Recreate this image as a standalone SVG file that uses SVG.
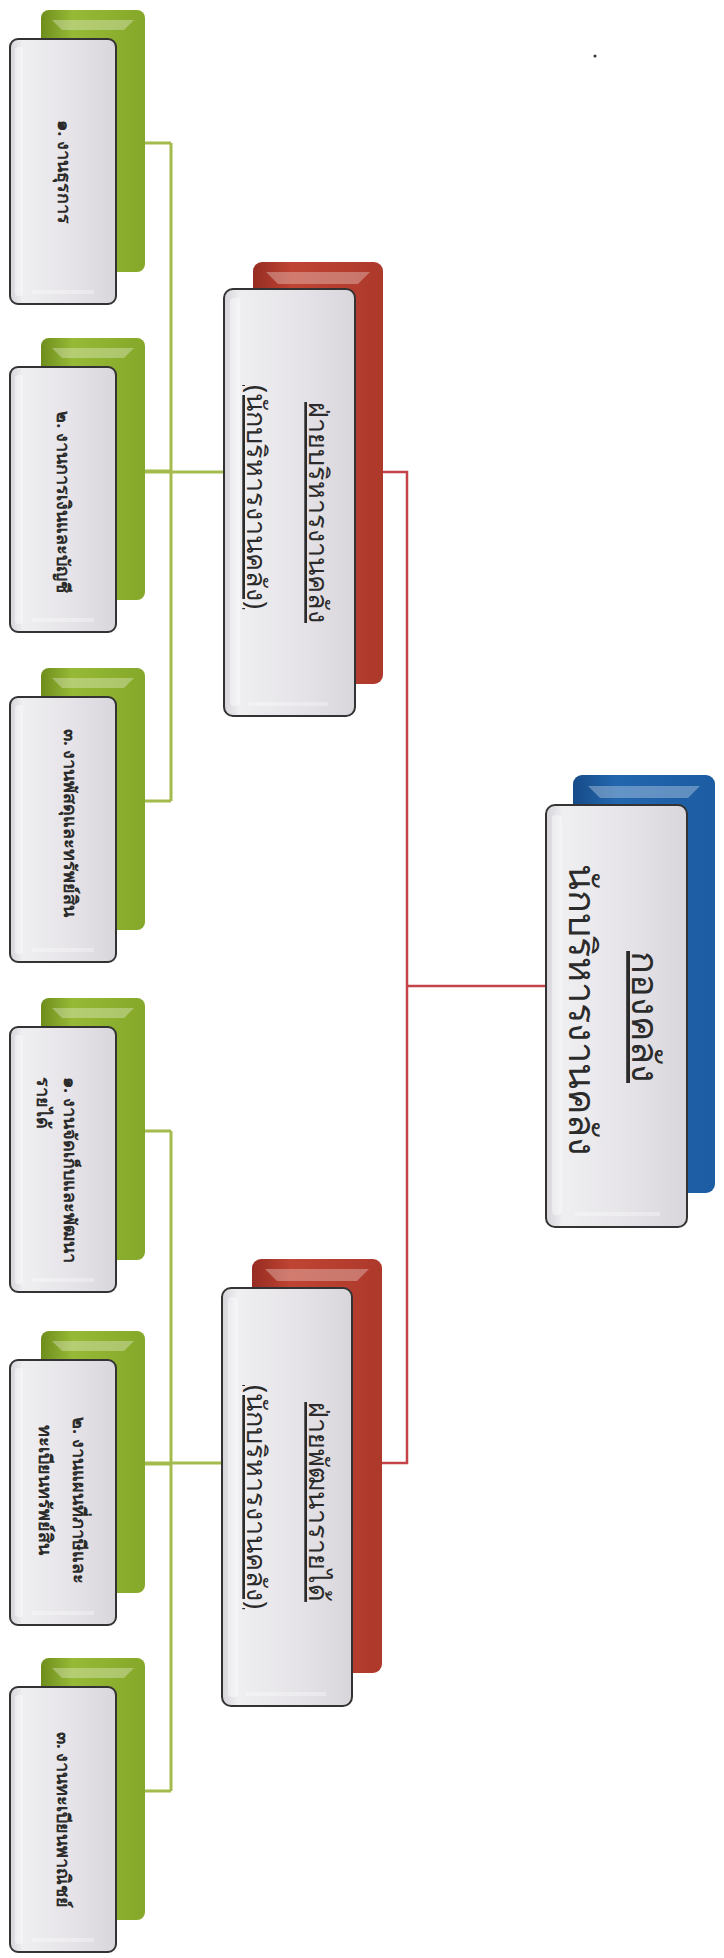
<svg xmlns="http://www.w3.org/2000/svg" width="724" height="1958" viewBox="0 0 724 1958">
<defs>
<style>
.ln-g{stroke:#a3bb4c;stroke-width:3;fill:none}
.ln-r{stroke:#c4434a;stroke-width:2.5;fill:none}
.front{fill:url(#gFront);stroke:#333333;stroke-width:2}
.hl{fill:#ffffff;opacity:.3}
.strip{fill:#ffffff;opacity:.4}
.t{font-family:"Noto Sans","DejaVu Sans",sans-serif;fill:#2b2b2b}
.tg{font-size:18px;font-weight:bold}
.tr{font-size:27px}
.tb{font-size:38px}
.u{text-decoration:underline}
</style>
<linearGradient id="gBlue" x1="0" y1="0" x2="1" y2="0">
<stop offset="0" stop-color="#174b88"/><stop offset=".3" stop-color="#2266ae"/><stop offset="1" stop-color="#1c5ca2"/>
</linearGradient>
<linearGradient id="gRed" x1="0" y1="0" x2="1" y2="0">
<stop offset="0" stop-color="#962c22"/><stop offset=".3" stop-color="#bf4433"/><stop offset="1" stop-color="#ad392b"/>
</linearGradient>
<linearGradient id="gGreen" x1="0" y1="0" x2="1" y2="0">
<stop offset="0" stop-color="#6e8d1c"/><stop offset=".3" stop-color="#96b936"/><stop offset="1" stop-color="#86a82a"/>
</linearGradient>
<linearGradient id="gFront" x1="0" y1="0" x2="1" y2="0">
<stop offset="0" stop-color="#d6d4d9"/><stop offset=".12" stop-color="#efeef1"/><stop offset=".6" stop-color="#e5e3e7"/><stop offset="1" stop-color="#d8d6db"/>
</linearGradient>
</defs>
<rect width="724" height="1958" fill="#ffffff"/>
<circle cx="595" cy="56" r="1.5" fill="#333"/>

<g id="connectors">
<path class="ln-g" d="M145 143H171M145 471H171M145 801H171M171 143V801M145 472H224"/>
<path class="ln-g" d="M145 1131H171M145 1464H171M145 1791H171M171 1131V1791M145 1463H222"/>
<path class="ln-r" d="M383 472H407V1463H382M407 986H546"/>
</g>

<g id="n-top">
<rect x="573" y="775" width="142" height="418" rx="9" fill="url(#gBlue)"/>
<polygon class="hl" points="588,786 700,786 688,798 600,798"/>
<rect class="front" x="546" y="805" width="141" height="422" rx="9"/>
<rect class="strip" x="552" y="815" width="10" height="400" rx="4"/>
<rect class="hl" x="575" y="1212" width="85" height="4"/>
<text class="t tb u" text-anchor="middle" transform="translate(632 1017) rotate(90)">กองคลัง</text>
<text class="t tb" text-anchor="middle" transform="translate(569 1010) rotate(90)">นักบริหารงานคลัง</text>
</g>

<g id="n-red1">
<rect x="253" y="262" width="130" height="422" rx="9" fill="url(#gRed)"/>
<polygon class="hl" points="266,272 370,272 358,284 278,284"/>
<rect class="front" x="224" y="289" width="131" height="427" rx="9"/>
<rect class="strip" x="230" y="298" width="10" height="408" rx="4"/>
<rect class="hl" x="248" y="702" width="80" height="4"/>
<text class="t tr u" transform="translate(309 402) rotate(90)">ฝ่ายบริหารงานคลัง</text>
<text class="t tr u" transform="translate(247 385) rotate(90)">(นักบริหารงานคลัง)</text>
</g>

<g id="n-red2">
<rect x="252" y="1259" width="130" height="414" rx="9" fill="url(#gRed)"/>
<polygon class="hl" points="265,1269 369,1269 357,1281 277,1281"/>
<rect class="front" x="222" y="1288" width="130" height="418" rx="9"/>
<rect class="strip" x="228" y="1297" width="10" height="400" rx="4"/>
<rect class="hl" x="246" y="1692" width="80" height="4"/>
<text class="t tr u" transform="translate(309 1402) rotate(90)">ฝ่ายพัฒนารายได้</text>
<text class="t tr u" transform="translate(247 1385) rotate(90)">(นักบริหารงานคลัง)</text>
</g>

<g id="n-g1">
<rect x="41" y="10" width="104" height="262" rx="8" fill="url(#gGreen)"/>
<polygon class="hl" points="52,20 134,20 124,30 62,30"/>
<rect class="front" x="10" y="39" width="106" height="265" rx="8"/>
<rect class="strip" x="15" y="47" width="8" height="249" rx="3"/>
<rect class="hl" x="32" y="290" width="62" height="4"/>
<text class="t tg" text-anchor="middle" transform="translate(58 172) rotate(90)">๑. งานธุรการ</text>
</g>

<g id="n-g2">
<rect x="41" y="338" width="104" height="262" rx="8" fill="url(#gGreen)"/>
<polygon class="hl" points="52,348 134,348 124,358 62,358"/>
<rect class="front" x="10" y="367" width="106" height="265" rx="8"/>
<rect class="strip" x="15" y="375" width="8" height="249" rx="3"/>
<rect class="hl" x="32" y="618" width="62" height="4"/>
<text class="t tg" text-anchor="middle" transform="translate(57 502) rotate(90)">๒. งานการเงินและบัญชี</text>
</g>

<g id="n-g3">
<rect x="41" y="668" width="104" height="262" rx="8" fill="url(#gGreen)"/>
<polygon class="hl" points="52,678 134,678 124,688 62,688"/>
<rect class="front" x="10" y="697" width="106" height="265" rx="8"/>
<rect class="strip" x="15" y="705" width="8" height="249" rx="3"/>
<rect class="hl" x="32" y="948" width="62" height="4"/>
<text class="t tg" text-anchor="middle" transform="translate(64 823) rotate(90)">๓. งานพัสดุและทรัพย์สิน</text>
</g>

<g id="n-g4">
<rect x="41" y="998" width="104" height="262" rx="8" fill="url(#gGreen)"/>
<polygon class="hl" points="52,1008 134,1008 124,1018 62,1018"/>
<rect class="front" x="10" y="1027" width="106" height="265" rx="8"/>
<rect class="strip" x="15" y="1035" width="8" height="249" rx="3"/>
<rect class="hl" x="32" y="1278" width="62" height="4"/>
<text class="t tg" transform="translate(64 1077) rotate(90)">๑. งานจัดเก็บและพัฒนา</text>
<text class="t tg" transform="translate(37 1077) rotate(90)">รายได้</text>
</g>

<g id="n-g5">
<rect x="41" y="1331" width="104" height="262" rx="8" fill="url(#gGreen)"/>
<polygon class="hl" points="52,1341 134,1341 124,1351 62,1351"/>
<rect class="front" x="10" y="1360" width="106" height="265" rx="8"/>
<rect class="strip" x="15" y="1368" width="8" height="249" rx="3"/>
<rect class="hl" x="32" y="1611" width="62" height="4"/>
<text class="t tg" transform="translate(73 1417) rotate(90)">๒. งานแผนที่ภาษีและ</text>
<text class="t tg" transform="translate(39 1425) rotate(90)">ทะเบียนทรัพย์สิน</text>
</g>

<g id="n-g6">
<rect x="41" y="1658" width="104" height="262" rx="8" fill="url(#gGreen)"/>
<polygon class="hl" points="52,1668 134,1668 124,1678 62,1678"/>
<rect class="front" x="10" y="1687" width="106" height="265" rx="8"/>
<rect class="strip" x="15" y="1695" width="8" height="249" rx="3"/>
<rect class="hl" x="32" y="1938" width="62" height="4"/>
<text class="t tg" text-anchor="middle" transform="translate(57 1820) rotate(90)">๓. งานทะเบียนพาณิชย์</text>
</g>
</svg>
